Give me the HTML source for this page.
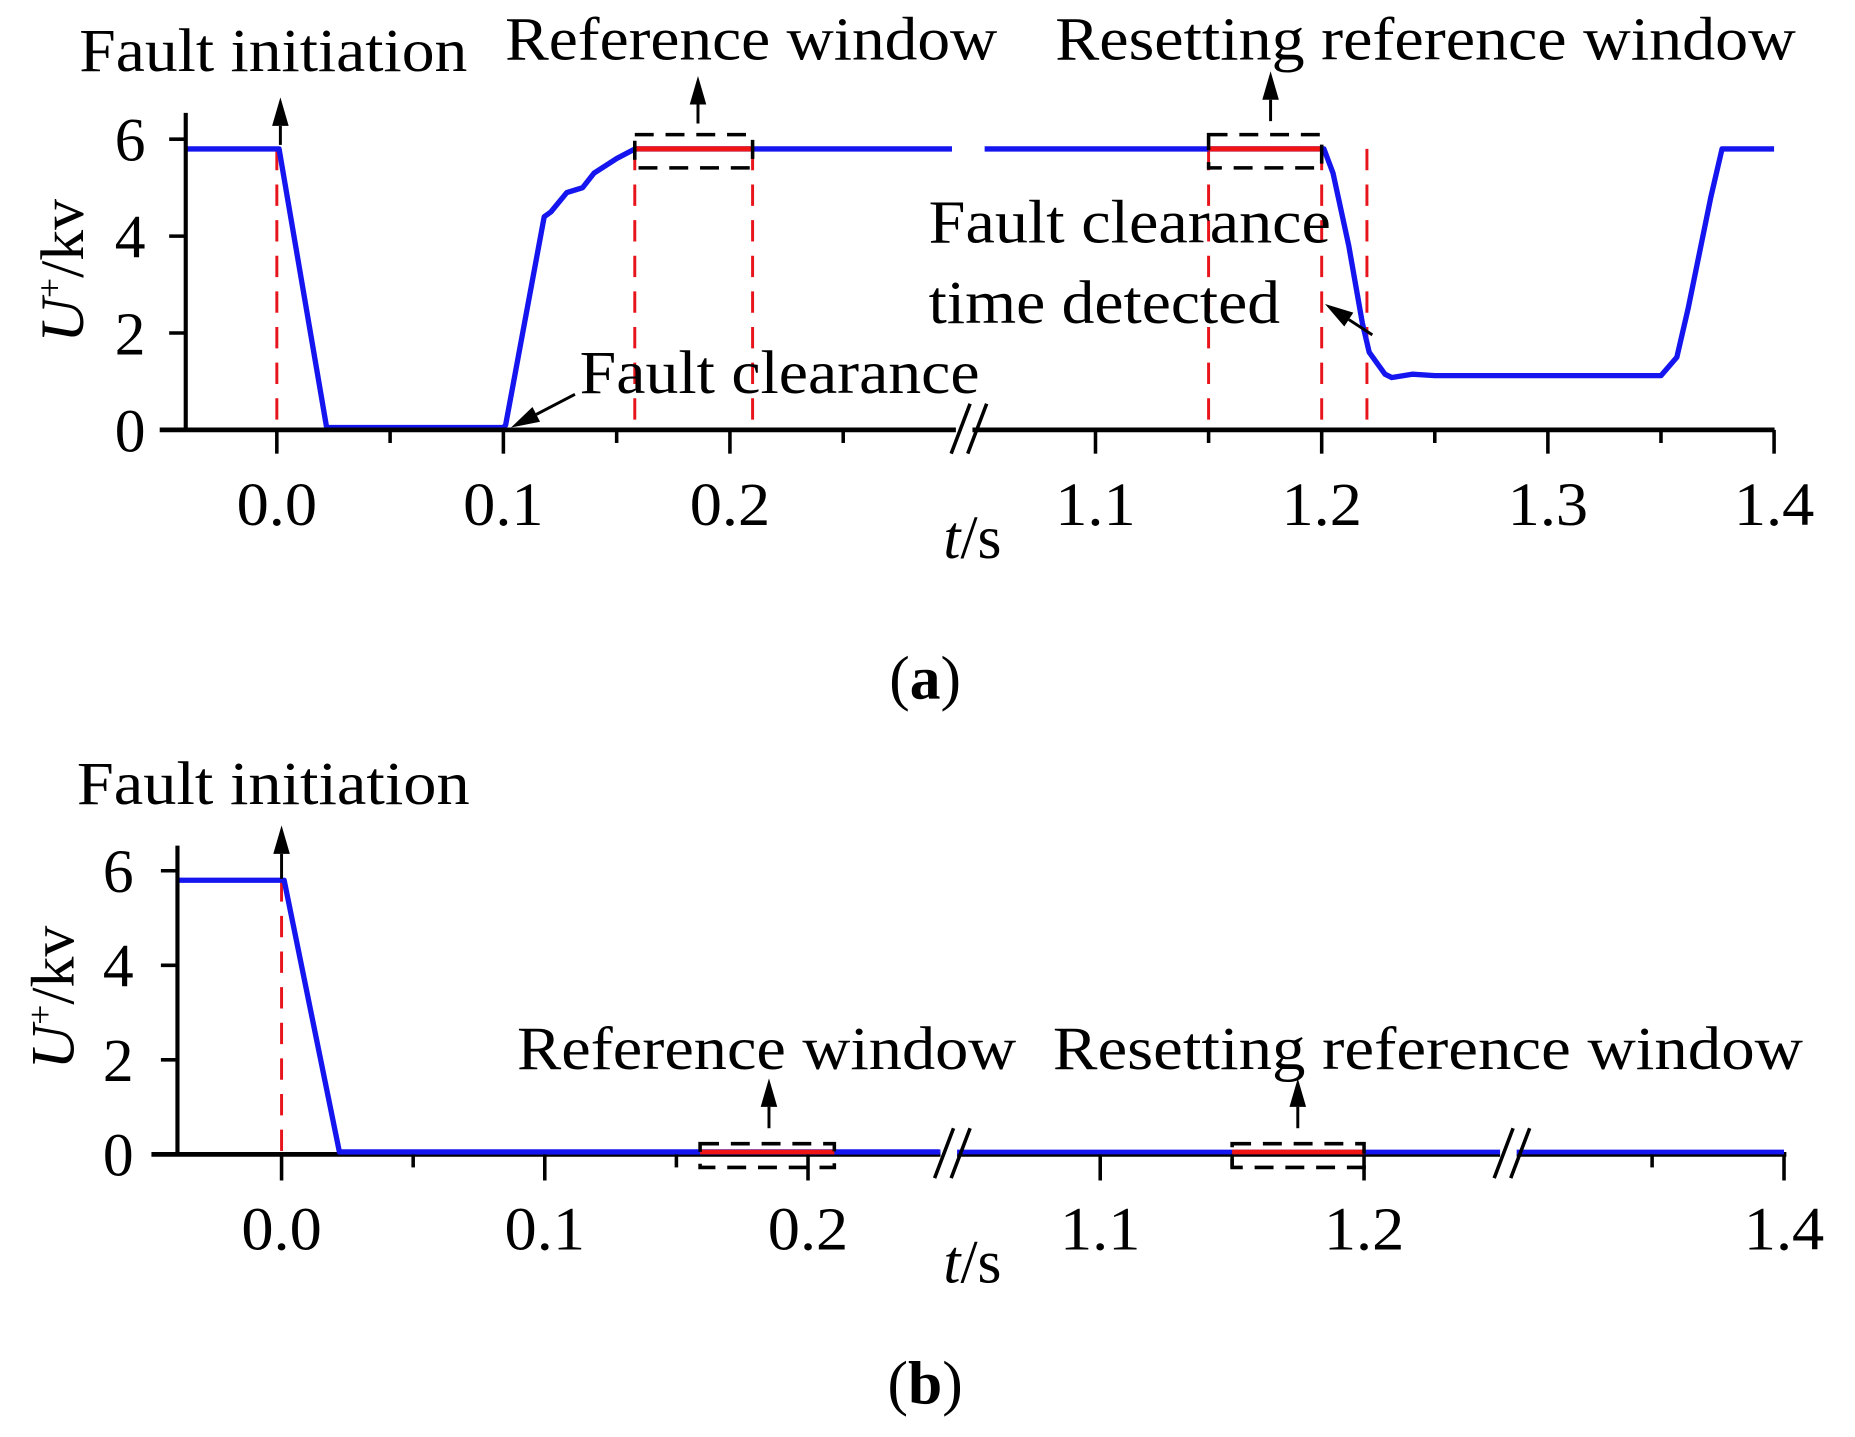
<!DOCTYPE html>
<html><head><meta charset="utf-8"><style>
html,body{margin:0;padding:0;background:#fff;}
svg{display:block;}
text{font-family:"Liberation Serif",serif;fill:#000;}
</style></head><body>
<svg id="fig" width="1855" height="1437" viewBox="0 0 1568 1210" preserveAspectRatio="none" xmlns="http://www.w3.org/2000/svg">
<g id="pa"></g>
<g id="pb"></g>
</svg>
<script>
// Panel (a) data
const aLeftT = [-0.04, 0.001, 0.022, 0.1, 0.101, 0.118, 0.121, 0.128, 0.135, 0.14, 0.15, 0.158, 0.298];
const aLeftV = [5.8, 5.8, 0.05, 0.05, 0.1, 4.4, 4.5, 4.9, 5.0, 5.3, 5.6, 5.8, 5.8];
const aRightT = [1.051, 1.201, 1.205, 1.212, 1.218, 1.221, 1.228, 1.231, 1.24, 1.25, 1.35, 1.357, 1.362, 1.372, 1.377, 1.4];
const aRightV = [5.8, 5.8, 5.3, 3.8, 2.2, 1.6, 1.15, 1.08, 1.15, 1.12, 1.12, 1.5, 2.5, 4.8, 5.8, 5.8];
const aTickLabels = ["0.0", "0.1", "0.2", "1.1", "1.2", "1.3", "1.4"];
const aTickVals = [0, 0.1, 0.2, 1.1, 1.2, 1.3, 1.4];
const aMinor = [0.05, 0.15, 0.25, 1.15, 1.25, 1.35];
const aRedDash = [0, 0.158, 0.21, 1.15, 1.2, 1.22];
const aWindows = [[0.158, 0.21], [1.15, 1.2]];
// Panel (b) data
const bT = [-0.04, 0.001, 0.022, 0.25];
const bV = [5.8, 5.8, 0.05, 0.05];
const bLevel = 0.05;
const bTickLabels = ["0.0", "0.1", "0.2", "1.1", "1.2", "1.4"];
const bTickVals = [0, 0.1, 0.2, 1.1, 1.2, 1.4];
const bMinor = [0.05, 0.15, 1.15, 1.35];
const bWindows = [[0.159, 0.21], [1.15, 1.2]];
const yTicks = [0, 2, 4, 6];

const NS = "http://www.w3.org/2000/svg";
function mk(parent, tag, attrs, txt) {
  const e = document.createElementNS(NS, tag);
  for (const k in attrs) e.setAttribute(k, attrs[k]);
  if (txt !== undefined) e.textContent = txt;
  parent.appendChild(e);
  return e;
}
const pa = document.getElementById('pa');
const pb = document.getElementById('pb');

function xa(t) { return t < 0.5 ? 234 + t * 1915 : 926 + (t - 1.1) * 1912; }
function ya(v) { return 362 - v * 40.8; }
function xb(t) { if (t < 0.5) return 238 + t * 2225; if (t < 1.27) return 930 + (t - 1.1) * 2230; return 1285 + (t - 1.3) * 2230; }
function yb(v) { return 972 - v * 39.8; }

function path(g, T, V, fx, fy, color, w, name) {
  let d = T.map((t, i) => (i ? 'L' : 'M') + fx(t).toFixed(1) + ',' + fy(V[i]).toFixed(1)).join(' ');
  const p = mk(g, 'path', {d: d, fill: 'none', stroke: color, 'stroke-width': w, 'stroke-linejoin': 'round'});
  
  
  return p;
}
function txt(g, x, y, s, size, name, extra) {
  const a = Object.assign({x: x, y: y, 'font-size': size}, extra || {});
  if (a.textLength) a.lengthAdjust = 'spacingAndGlyphs';
  const t = mk(g, 'text', a, s);
  
  
  return t;
}
function arrow(g, x1, y1, x2, y2, name) {
  const dx = x2 - x1, dy = y2 - y1, L = Math.hypot(dx, dy), ux = dx / L, uy = dy / L;
  const hl = 24, hw = 7;
  const bx = x2 - ux * hl, by = y2 - uy * hl;
  const l = mk(g, 'line', {x1: x1, y1: y1, x2: bx, y2: by, stroke: '#000', 'stroke-width': 2.5});
  
  
  const h = mk(g, 'polygon', {points: `${x2},${y2} ${bx - uy * hw},${by + ux * hw} ${bx + uy * hw},${by - ux * hw}`, fill: '#000'});
  
  
}
function breakMark(g, x, y, name) {
  const b = mk(g, 'path', {d: `M${x-18},${y+20} L${x-2},${y-22} M${x-4},${y+20} L${x+12},${y-22}`, stroke: '#000', 'stroke-width': 3, fill: 'none'});
  
  
}
function yAxis(g, ax, fy, top, name, labX) {
  const l = mk(g, 'line', {x1: ax, y1: top, x2: ax, y2: fy(0), stroke: '#000', 'stroke-width': 3.5});
  
  
  yTicks.forEach(v => {
    mk(g, 'line', {x1: ax - 14, y1: fy(v), x2: ax, y2: fy(v), stroke: '#000', 'stroke-width': 3});
    txt(g, labX, fy(v) + 18, String(v), 52, 'y-tick-label', {'text-anchor': 'middle'});
  });
}
function yTitle(g, cx, cy) {
  txt(g, 0, 0, '', 52, 'y-axis-title', {'text-anchor': 'middle', transform: `translate(${cx},${cy}) rotate(-90)`}).innerHTML = '<tspan font-style="italic">U</tspan><tspan font-size="30" dy="-18">+</tspan><tspan dy="18">/kv</tspan>';
}

// ---------- Panel A ----------
aRedDash.forEach(t => {
  const l = mk(pa, 'line', {x1: xa(t), y1: ya(5.8), x2: xa(t), y2: ya(0), stroke: '#e8141c', 'stroke-width': 2.5, 'stroke-dasharray': '18,12'});
  
  
});
path(pa, aLeftT, aLeftV, xa, ya, '#1515f0', 4.5, 'voltage-line-left');
path(pa, aRightT, aRightV, xa, ya, '#1515f0', 4.5, 'voltage-line-right');
aWindows.forEach((w, i) => {
  const r = mk(pa, 'line', {x1: xa(w[0]), y1: ya(5.8), x2: xa(w[1]), y2: ya(5.8), stroke: '#f01515', 'stroke-width': 4.5});
  
  
  const b = mk(pa, 'rect', {x: xa(w[0]), y: ya(5.8) - 12, width: xa(w[1]) - xa(w[0]), height: 28, fill: 'none', stroke: '#000', 'stroke-width': 3, 'stroke-dasharray': '16,10'});
  
  
});
const xla = mk(pa, 'line', {x1: 135, y1: 362, x2: 1500, y2: 362, stroke: '#000', 'stroke-width': 4});


yAxis(pa, 157, ya, 95, 'y-axis', 110);
aTickVals.forEach((t, i) => {
  mk(pa, 'line', {x1: xa(t), y1: 362, x2: xa(t), y2: 382, stroke: '#000', 'stroke-width': 3});
  txt(pa, xa(t) - 34, 442, aTickLabels[i], 52, 'x-tick-label', {textLength: 68});
});
aMinor.forEach(t => mk(pa, 'line', {x1: xa(t), y1: 362, x2: xa(t), y2: 373, stroke: '#000', 'stroke-width': 3}));
mk(pa, 'rect', {x: 808, y: 340, width: 14, height: 44, fill: '#fff'});
breakMark(pa, 822, 362, 'axis-break');
txt(pa, 822, 470, '', 52, 'x-axis-title', {'text-anchor': 'middle'}).innerHTML = '<tspan font-style="italic">t</tspan>/s';
yTitle(pa, 70, 228);
txt(pa, 67, 60, 'Fault initiation', 52, 'fault-initiation-label', {textLength: 328});
txt(pa, 427, 50, 'Reference window', 52, 'reference-window-label', {textLength: 416});
txt(pa, 892, 50, 'Resetting reference window', 52, 'resetting-window-label', {textLength: 626});
txt(pa, 785, 204, 'Fault clearance', 52, 'fault-clearance-detected-label', {textLength: 340});
txt(pa, 785, 272, 'time detected', 52, 'time-detected-label', {textLength: 297});
txt(pa, 490, 331, 'Fault clearance', 52, 'fault-clearance-label', {textLength: 338});
arrow(pa, 237, 122, 237, 82, 'fault-initiation-arrow');
arrow(pa, 590, 104, 590, 64, 'reference-window-arrow');
arrow(pa, 1074, 102, 1074, 60, 'resetting-window-arrow');
arrow(pa, 486, 332, 432, 360, 'fault-clearance-arrow');
arrow(pa, 1160, 282, 1120, 256, 'time-detected-arrow');
txt(pa, 782, 588, '', 52, 'panel-a-caption', {'text-anchor': 'middle'}).innerHTML = '(<tspan font-weight="bold">a</tspan>)';

// ---------- Panel B ----------
const rb = mk(pb, 'line', {x1: xb(0), y1: yb(5.8), x2: xb(0), y2: yb(0), stroke: '#e8141c', 'stroke-width': 2.5, 'stroke-dasharray': '18,12'});


const xlb = mk(pb, 'line', {x1: 128, y1: 972, x2: 1510, y2: 972, stroke: '#000', 'stroke-width': 4});


path(pb, bT, bV, xb, yb, '#1515f0', 4.5, 'voltage-line');
const fl = mk(pb, 'line', {x1: xb(0.25), y1: yb(bLevel), x2: 1508, y2: yb(bLevel), stroke: '#1515f0', 'stroke-width': 4});


bWindows.forEach((w, i) => {
  const r = mk(pb, 'line', {x1: xb(w[0]), y1: yb(bLevel), x2: xb(w[1]), y2: yb(bLevel), stroke: '#f01515', 'stroke-width': 4});
  
  
  const b = mk(pb, 'rect', {x: xb(w[0]), y: 963, width: xb(w[1]) - xb(w[0]), height: 20, fill: 'none', stroke: '#000', 'stroke-width': 3, 'stroke-dasharray': '16,10'});
  
  
});
yAxis(pb, 150, yb, 712, 'y-axis', 100);
bTickVals.forEach((t, i) => {
  mk(pb, 'line', {x1: xb(t), y1: 972, x2: xb(t), y2: 994, stroke: '#000', 'stroke-width': 3});
  txt(pb, xb(t) - 34, 1052, bTickLabels[i], 52, 'x-tick-label', {textLength: 68});
});
bMinor.forEach(t => mk(pb, 'line', {x1: xb(t), y1: 972, x2: xb(t), y2: 983, stroke: '#000', 'stroke-width': 3}));
mk(pb, 'rect', {x: 795, y: 955, width: 14, height: 40, fill: '#fff'});
breakMark(pb, 808, 972, 'axis-break');
mk(pb, 'rect', {x: 1268, y: 955, width: 14, height: 40, fill: '#fff'});
breakMark(pb, 1281, 972, 'axis-break');
txt(pb, 822, 1080, '', 52, 'x-axis-title', {'text-anchor': 'middle'}).innerHTML = '<tspan font-style="italic">t</tspan>/s';
yTitle(pb, 62, 840);
txt(pb, 65, 677, 'Fault initiation', 52, 'fault-initiation-label', {textLength: 332});
txt(pb, 437, 900, 'Reference window', 52, 'reference-window-label', {textLength: 422});
txt(pb, 890, 900, 'Resetting reference window', 52, 'resetting-window-label', {textLength: 634});
arrow(pb, 238, 740, 238, 695, 'fault-initiation-arrow');
arrow(pb, 650, 950, 650, 908, 'reference-window-arrow');
arrow(pb, 1097, 950, 1097, 908, 'resetting-window-arrow');
txt(pb, 782, 1182, '', 52, 'panel-b-caption', {'text-anchor': 'middle'}).innerHTML = '(<tspan font-weight="bold">b</tspan>)';
</script>
</body></html>
